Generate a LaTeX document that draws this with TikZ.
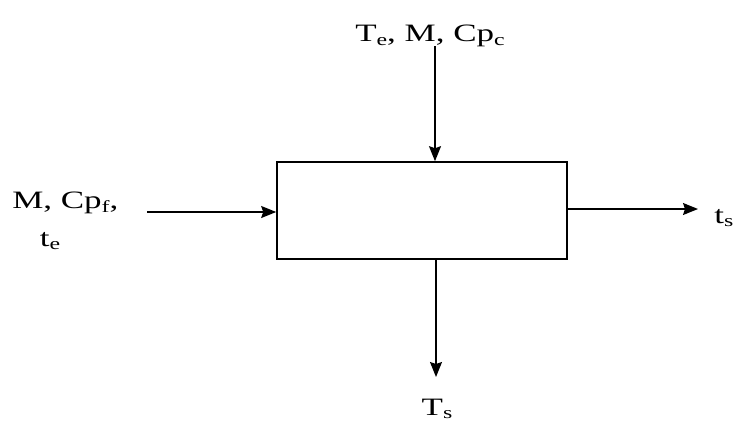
\documentclass[tikz,border=0pt]{standalone}
\usepackage{fontspec}
\setmainfont{Liberation Serif}
\usetikzlibrary{arrows.meta}
\newcommand\lowsub[1]{\raisebox{-0.3ex}{\fontsize{17}{17}\selectfont #1}}
\begin{document}
\begin{tikzpicture}[x=1pt,y=-1pt,
  lbl/.style={font=\fontsize{25}{28}\selectfont, inner sep=0pt, xscale=1.4, transform shape},
  flow/.style={line width=1.3pt, -{Stealth[length=15pt,width=12pt,inset=2pt]}},
  box/.style={draw, line width=1.6pt, minimum width=290pt, minimum height=97pt, inner sep=0pt}]
\useasboundingbox (0,0) rectangle (734,421);
\node[box] (b) at (422,210.5) {};
\node[lbl] (top) at (430,36) {T\lowsub{e}, M, Cp\lowsub{c}};
\node[lbl, anchor=west] (left) at (12,203) {M, Cp\lowsub{f},};
\node[lbl] (te) at (50,241) {t\lowsub{e}};
\node[lbl, anchor=west] (ts) at (714,218) {t\lowsub{s}};
\node[lbl] (Ts) at (437,409) {T\lowsub{s}};
\coordinate (tin) at (435,46);
\coordinate (lin) at (147,212);
\coordinate (rout) at (698,209);
\coordinate (bout) at (436,377);
\draw[flow] (tin) -- (tin |- b.north);
\draw[flow] (lin) -- (lin -| b.west);
\draw[flow] (rout -| b.east) -- (rout);
\draw[flow] (bout |- b.south) -- (bout);
\end{tikzpicture}
\end{document}
